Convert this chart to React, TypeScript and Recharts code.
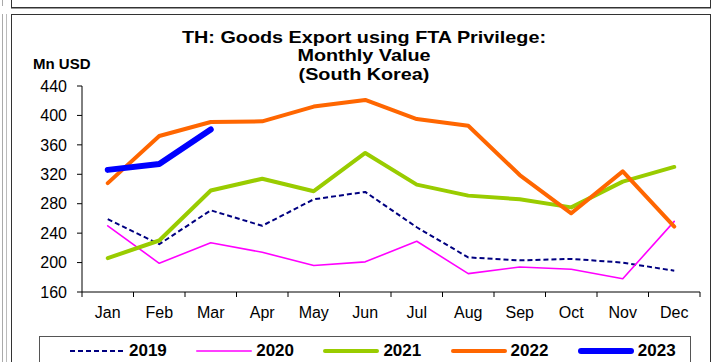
import React from 'react';
import { LineChart, Line, XAxis, YAxis } from 'recharts';

const months = ['Jan', 'Feb', 'Mar', 'Apr', 'May', 'Jun', 'Jul', 'Aug', 'Sep', 'Oct', 'Nov', 'Dec'];
const v2019 = [259, 225, 271, 250, 286, 296, 248, 207, 203, 205, 200, 189];
const v2020 = [250, 199, 227, 214, 196, 201, 229, 185, 194, 191, 178, 256];
const v2021 = [206, 230, 298, 314, 297, 349, 306, 291, 286, 275, 310, 330];
const v2022 = [308, 372, 391, 392, 412, 421, 395, 386, 319, 267, 324, 249];
const v2023 = [326, 334, 381, null, null, null, null, null, null, null, null, null];
const yTicks = [160, 200, 240, 280, 320, 360, 400, 440];
const titleLines = ['TH: Goods Export using FTA Privilege:', 'Monthly Value', '(South Korea)'];
const yUnit = 'Mn USD';

const series = [
  { key: 'y2019', name: '2019', values: v2019, color: '#000080', width: 2, dash: '5 3' },
  { key: 'y2020', name: '2020', values: v2020, color: '#FF00FF', width: 1.6, dash: undefined },
  { key: 'y2021', name: '2021', values: v2021, color: '#99CC00', width: 4, dash: undefined },
  { key: 'y2022', name: '2022', values: v2022, color: '#FF6600', width: 4, dash: undefined },
  { key: 'y2023', name: '2023', values: v2023, color: '#0000FF', width: 6, dash: undefined },
];

const data = months.map((m, i) => {
  const row: Record<string, any> = { month: m };
  series.forEach((s) => {
    row[s.key] = s.values[i];
  });
  return row;
});

const FONT = '"Liberation Sans", Arial, sans-serif';

// Category tick: label at band center, tick marks at band boundaries (Excel style)
const MonthTick = (props: any) => {
  const { x, y, payload, index } = props;
  const half = payload && typeof payload.offset === 'number' ? payload.offset : 0;
  const axisY = y - 15;
  const isLast = index === months.length - 1;
  return (
    <g>
      <line x1={x - half} x2={x - half} y1={axisY} y2={axisY + 5} stroke="#000" strokeWidth={1} />
      {isLast && <line x1={x + half} x2={x + half} y1={axisY} y2={axisY + 5} stroke="#000" strokeWidth={1} />}
      <text x={x} y={y} dy="0.71em" textAnchor="middle" fontSize={16} fill="#000" fontFamily={FONT}>
        {payload.value}
      </text>
    </g>
  );
};

export default function App() {
  return (
    <div
      style={{
        position: 'absolute',
        left: 0,
        top: 0,
        width: 712,
        height: 362,
        background: '#fff',
        overflow: 'hidden',
        fontFamily: FONT,
      }}
    >
      {/* frames */}
      <div style={{ position: 'absolute', left: 2, top: 0, width: 1, height: 6, background: '#aaa' }} />
      <div style={{ position: 'absolute', left: 2, top: 14, width: 1, height: 348, background: '#aaa' }} />
      <div style={{ position: 'absolute', left: 6, top: 14, width: 1, height: 348, background: '#bbb' }} />
      <div style={{ position: 'absolute', left: 11, top: 0, width: 1, height: 8, background: '#333' }} />
      <div style={{ position: 'absolute', left: 11, top: 7, width: 700, height: 1, background: '#333' }} />
      <div style={{ position: 'absolute', left: 11, top: 8, width: 700, height: 1, background: '#999' }} />
      <div style={{ position: 'absolute', left: 710, top: 0, width: 1, height: 8, background: '#333' }} />
      <div style={{ position: 'absolute', left: 11, top: 14, width: 700, height: 1, background: '#333' }} />
      <div style={{ position: 'absolute', left: 11, top: 14, width: 1, height: 348, background: '#333' }} />
      <div style={{ position: 'absolute', left: 710, top: 14, width: 1, height: 348, background: '#333' }} />

      <div style={{ position: 'absolute', left: 0, top: 0 }}>
        <LineChart width={712} height={362} data={data} margin={{ top: 86, right: 12, bottom: 40, left: 12 }}>
          <XAxis
            dataKey="month"
            scale="band"
            interval={0}
            height={30}
            axisLine={{ stroke: '#000', strokeWidth: 1 }}
            tickLine={false}
            tickSize={5}
            tickMargin={10}
            tick={<MonthTick />}
          />
          <YAxis
            domain={[160, 440]}
            ticks={yTicks}
            interval={0}
            width={70}
            tickSize={5}
            tickMargin={10}
            axisLine={{ stroke: '#000', strokeWidth: 1 }}
            tickLine={{ stroke: '#000', strokeWidth: 1 }}
            tick={{ fontSize: 16, fill: '#000', fontFamily: FONT }}
          />
          {series.map((s) => (
            <Line
              key={s.key}
              dataKey={s.key}
              name={s.name}
              type="linear"
              stroke={s.color}
              strokeWidth={s.width}
              strokeDasharray={s.dash}
              strokeLinejoin="round"
              strokeLinecap={s.dash ? 'butt' : 'round'}
              dot={false}
              activeDot={false}
              isAnimationActive={false}
              connectNulls={false}
            />
          ))}
        </LineChart>
      </div>

      {/* title */}
      {titleLines.map((t, i) => (
        <div
          key={i}
          style={{
            position: 'absolute',
            left: 64,
            width: 600,
            top: 27.5 + i * 18.5,
            height: 18.5,
            textAlign: 'center',
            fontWeight: 'bold',
            fontSize: 16.5,
            lineHeight: '18.5px',
            color: '#000',
            whiteSpace: 'nowrap',
            transform: 'scaleX(1.2)',
          }}
        >
          {t}
        </div>
      ))}
      <div
        style={{
          position: 'absolute',
          left: 33,
          top: 55,
          fontWeight: 'bold',
          fontSize: 15,
          lineHeight: '18px',
          color: '#000',
          whiteSpace: 'nowrap',
        }}
      >
        {yUnit}
      </div>

      {/* legend */}
      <div
        style={{
          position: 'absolute',
          left: 39,
          top: 336,
          width: 652,
          height: 40,
          border: '1px solid #555',
          boxSizing: 'border-box',
        }}
      >
        {series.map((s, i) => (
          <div
            key={s.key}
            style={{
              position: 'absolute',
              left: 28 + i * 127.2,
              top: 4,
              height: 20,
              display: 'flex',
              alignItems: 'center',
            }}
          >
            <svg width={58} height={10}>
              <line
                x1={s.width / 2 + 1}
                y1={5}
                x2={57 - s.width / 2}
                y2={5}
                stroke={s.color}
                strokeWidth={s.width}
                strokeDasharray={s.dash}
                strokeLinecap={s.dash ? 'butt' : 'round'}
              />
            </svg>
            <span style={{ marginLeft: 3, fontWeight: 'bold', fontSize: 17, color: '#000' }}>{s.name}</span>
          </div>
        ))}
      </div>
    </div>
  );
}
